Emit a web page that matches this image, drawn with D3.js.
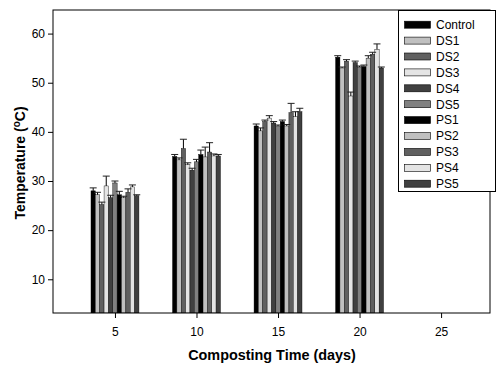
<!DOCTYPE html>
<html><head><meta charset="utf-8">
<script src="https://cdn.jsdelivr.net/npm/d3@7"></script>
<style>body{margin:0;background:#fff}svg{display:block;font-family:"Liberation Sans",Arial,sans-serif}</style>
</head><body><svg id="c" width="500" height="369"></svg>
<script>
const days = [5, 10, 15, 20];
const seriesNames = ["Control","DS1","DS2","DS3","DS4","DS5","PS1","PS2","PS3","PS4","PS5"];
const seriesColors = ["#000000","#c0c0c0","#606060","#e4e4e4","#404040","#808080","#000000","#c0c0c0","#606060","#e4e4e4","#404040"];
const Control = [28.0, 35.0, 41.2, 55.2];
const DS1 = [27.2, 34.3, 40.2, 53.0];
const DS2 = [25.2, 36.6, 42.1, 54.4];
const DS3 = [29.0, 33.3, 42.8, 47.3];
const DS4 = [26.6, 32.2, 41.8, 54.1];
const DS5 = [29.6, 33.9, 41.2, 53.2];
const PS1 = [27.2, 35.4, 42.1, 53.3];
const PS2 = [26.6, 34.9, 41.2, 55.0];
const PS3 = [27.7, 35.9, 43.9, 55.8];
const PS4 = [28.8, 35.1, 43.1, 56.8];
const PS5 = [27.0, 35.1, 44.1, 53.0];
const ControlErr = [0.6, 0.4, 0.4, 0.3];
const DS1Err = [0.5, 0.4, 0.6, 0.2];
const DS2Err = [0.5, 1.9, 0.3, 0.3];
const DS3Err = [2.0, 0.4, 0.5, 0.8];
const DS4Err = [0.5, 0.4, 0.3, 0.3];
const DS5Err = [0.4, 0.5, 0.2, 0.2];
const PS1Err = [0.7, 0.9, 0.3, 0.3];
const PS2Err = [0.3, 2.0, 0.3, 0.5];
const PS3Err = [0.7, 1.9, 1.9, 0.4];
const PS4Err = [0.4, 0.4, 1.0, 1.1];
const PS5Err = [0.2, 0.3, 0.7, 0.2];
const yTicks = [10, 20, 30, 40, 50, 60];
const xTicks = [5, 10, 15, 20, 25];

const values = [Control, DS1, DS2, DS3, DS4, DS5, PS1, PS2, PS3, PS4, PS5];
const errs = [ControlErr, DS1Err, DS2Err, DS3Err, DS4Err, DS5Err, PS1Err, PS2Err, PS3Err, PS4Err, PS5Err];

const svg = d3.select("#c");
const L = 53, R = 490, T = 10, B = 313;
const x = d3.scaleLinear().domain([1.2, 28]).range([L, R]);
const y = d3.scaleLinear().domain([3.14, 64.8]).range([B, T]);
const groupW = 2.94;
const inner = d3.scaleBand().domain(d3.range(seriesNames.length)).range([-groupW/2, groupW/2]).padding(0);

const g = svg.append("g");
svg.append("clipPath").attr("id","pc").append("rect").attr("x",L).attr("y",T).attr("width",R-L).attr("height",B-T);
const bars = g.append("g").attr("clip-path","url(#pc)");

seriesNames.forEach((name, si) => {
  days.forEach((d, di) => {
    const x0 = x(d + inner(si)), x1 = x(d + inner(si) + inner.bandwidth());
    const v = values[si][di];
    bars.append("rect").attr("x", x0).attr("y", y(v)).attr("width", x1 - x0).attr("height", B - y(v))
      .attr("fill", seriesColors[si]).attr("stroke", "#000").attr("stroke-width", 0.4);
  });
});
seriesNames.forEach((name, si) => {
  days.forEach((d, di) => {
    const cx = x(d + inner(si) + inner.bandwidth()/2);
    const v = values[si][di], e = errs[si][di];
    bars.append("line").attr("x1", cx).attr("x2", cx).attr("y1", y(v)).attr("y2", y(v + e)).attr("stroke", "#000").attr("stroke-width", 1);
    bars.append("line").attr("x1", cx - 3.5).attr("x2", cx + 3.5).attr("y1", y(v + e)).attr("y2", y(v + e)).attr("stroke", "#222").attr("stroke-width", 1);
  });
});

// frame
svg.append("rect").attr("x", L).attr("y", T).attr("width", R - L).attr("height", B - T)
  .attr("fill", "none").attr("stroke", "#000").attr("stroke-width", 1);

// axes
const yAxis = d3.axisLeft(y).tickValues(yTicks).tickSize(5).tickPadding(3);
const ya = svg.append("g").attr("transform", `translate(${L},0)`).call(yAxis);
ya.select(".domain").remove();
ya.selectAll("text").attr("font-size", 12).attr("font-family", "Liberation Sans, Arial, sans-serif").attr("fill", "#000");

const xAxis = d3.axisBottom(x).tickValues(xTicks).tickSize(5).tickPadding(9);
const xa = svg.append("g").attr("transform", `translate(0,${B})`).call(xAxis);
xa.select(".domain").remove();
xa.selectAll("text").attr("font-size", 12).attr("font-family", "Liberation Sans, Arial, sans-serif").attr("fill", "#000");

// titles
svg.append("text").attr("x", 272).attr("y", 360).attr("text-anchor", "middle")
  .attr("font-size", 14.4).attr("font-weight", "bold").text("Composting Time (days)");
const yt = svg.append("text").attr("transform", "translate(25,163) rotate(-90)").attr("text-anchor", "middle")
  .attr("font-size", 14).attr("font-weight", "bold");
yt.append("tspan").text("Temperature (");
yt.append("tspan").attr("font-size", 10).attr("dy", -5).text("o");
yt.append("tspan").attr("dy", 5).text("C)");

// legend
const lg = svg.append("g");
lg.append("rect").attr("x", 398.5).attr("y", 10.5).attr("width", 97).attr("height", 181)
  .attr("fill", "#fff").attr("stroke", "#000").attr("stroke-width", 1);
seriesNames.forEach((name, i) => {
  const cy = 24.7 + i * 15.9;
  lg.append("rect").attr("x", 404.5).attr("y", cy - 3.5).attr("width", 26).attr("height", 7)
    .attr("fill", seriesColors[i]).attr("stroke", "#000").attr("stroke-width", 0.6);
  lg.append("text").attr("x", 436).attr("y", cy + 4.3).attr("font-size", 12).text(name);
});
</script></body></html>
